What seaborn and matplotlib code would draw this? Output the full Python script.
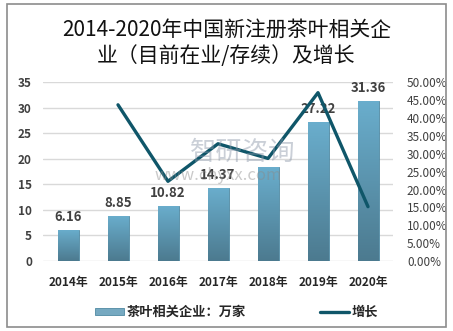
import numpy as np
import pandas as pd
import matplotlib
matplotlib.use("Agg")
import matplotlib.pyplot as plt
from matplotlib.colors import LinearSegmentedColormap
from matplotlib.ticker import MultipleLocator, FuncFormatter
import seaborn as sns

years = ["2014年", "2015年", "2016年", "2017年", "2018年", "2019年", "2020年"]
companies = [6.16, 8.85, 10.82, 14.37, 18.5, 27.22, 31.36]          # 万家
growth = [np.nan, 43.7, 22.3, 32.8, 28.7, 47.1, 15.2]              # %
bar_labels = ["6.16", "8.85", "10.82", "14.37", "", "27.22", "31.36"]

title = "2014-2020年中国新注册茶叶相关企\n业（目前在业/存续）及增长"
bar_name = "茶叶相关企业：万家"
line_name = "增长"

sns.set_theme(style="white")
plt.rcParams["font.family"] = ["Noto Sans CJK SC", "DejaVu Sans"]
plt.rcParams["axes.unicode_minus"] = False

BAR_TOP = "#6aaecd"
BAR_BOTTOM = "#4c7a8f"
LINE = "#0f5669"
TEXT = "#404040"

fig = plt.figure(figsize=(4.53, 3.31), dpi=100)
fig.patch.set_facecolor("white")

# outer frame
fig.add_artist(plt.Rectangle((7 / 453, 4 / 331), 439 / 453, 323 / 331,
                             transform=fig.transFigure, fill=False,
                             edgecolor="#8c8c8c", linewidth=1.2))

ax = fig.add_axes([43 / 453, 1 - 261 / 331, 350 / 453, 178.7 / 331])
df = pd.DataFrame({"year": years, "companies": companies, "growth": growth})

sns.barplot(data=df, x="year", y="companies", ax=ax, width=0.42,
            color=BAR_TOP, edgecolor="#4f89a3", linewidth=0.6,
            label=bar_name, zorder=2)

# vertical gradient inside each bar
cmap = LinearSegmentedColormap.from_list("bar", [BAR_BOTTOM, BAR_TOP])
grad = np.linspace(0, 1, 256).reshape(-1, 1)
for patch in ax.patches:
    x0, y0 = patch.get_x(), patch.get_y()
    w, h = patch.get_width(), patch.get_height()
    im = ax.imshow(grad, cmap=cmap, origin="lower", aspect="auto",
                   extent=[x0, x0 + w, y0, y0 + h], zorder=2.5)
    im.set_clip_path(patch)

for i, (v, lab) in enumerate(zip(companies, bar_labels)):
    if lab:
        ax.annotate(lab, (i, v), xytext=(0, 4), textcoords="offset points",
                    ha="center", va="bottom", fontsize=9.5, color=TEXT,
                    fontweight="bold", zorder=6)

ax.set_xlim(-0.5, len(years) - 0.5)
ax.set_ylim(0, 35)
ax.yaxis.set_major_locator(MultipleLocator(5))
ax.grid(axis="y", color="#d9d9d9", linewidth=1, zorder=0)
ax.set_axisbelow(True)
ax.set_xlabel("")
ax.set_ylabel("")
for s in ax.spines.values():
    s.set_visible(False)
ax.tick_params(axis="y", length=0, pad=8, labelsize=8.5, labelcolor=TEXT)
ax.tick_params(axis="x", length=0, pad=11, labelsize=8.5, labelcolor="#262626")
for t in ax.get_xticklabels() + ax.get_yticklabels():
    t.set_fontweight("bold")

ax2 = ax.twinx()
sns.lineplot(x=np.arange(len(years)), y=df["growth"], ax=ax2, color=LINE,
             linewidth=2.4, label=line_name, zorder=5)
ax2.set_ylim(0, 50)
ax2.yaxis.set_major_locator(MultipleLocator(5))
ax2.yaxis.set_major_formatter(FuncFormatter(lambda v, p: f"{v:.2f}%"))
ax2.set_ylabel("")
for s in ax2.spines.values():
    s.set_visible(False)
ax2.tick_params(axis="y", length=0, pad=10, labelsize=8.5, labelcolor=TEXT)
ax2.grid(False)
ax2.get_legend().remove()
leg1 = ax.get_legend()
if leg1:
    leg1.remove()

# legend below the axes
h1, l1 = ax.get_legend_handles_labels()
h2, l2 = ax2.get_legend_handles_labels()
fig.legend([h1[0], h2[0]], [bar_name, line_name], loc="center",
           bbox_to_anchor=(0.5 + 10 / 453, 1 - 312 / 331), ncol=2,
           frameon=False, handlelength=2.2, handleheight=0.5,
           handletextpad=0.2, columnspacing=5.6,
           prop={"size": 9.5, "weight": "bold"}, labelcolor="#262626")

fig.text(0.5, 1 - 43 / 331, title, ha="center", va="center", fontsize=15,
         color="#111111", linespacing=1.25, fontweight="medium")

# watermark
fig.text(190 / 453, 1 - 152 / 331, "智研咨询", fontsize=19, color="#8a96a8",
         alpha=0.45, ha="left", va="center", zorder=10)
fig.text(155 / 453, 1 - 176 / 331, "www.chyxx.com", fontsize=12,
         color="#8a8a8a", alpha=0.45, ha="left", va="center", zorder=10)

fig.savefig("out.png", dpi=100, facecolor="white")
